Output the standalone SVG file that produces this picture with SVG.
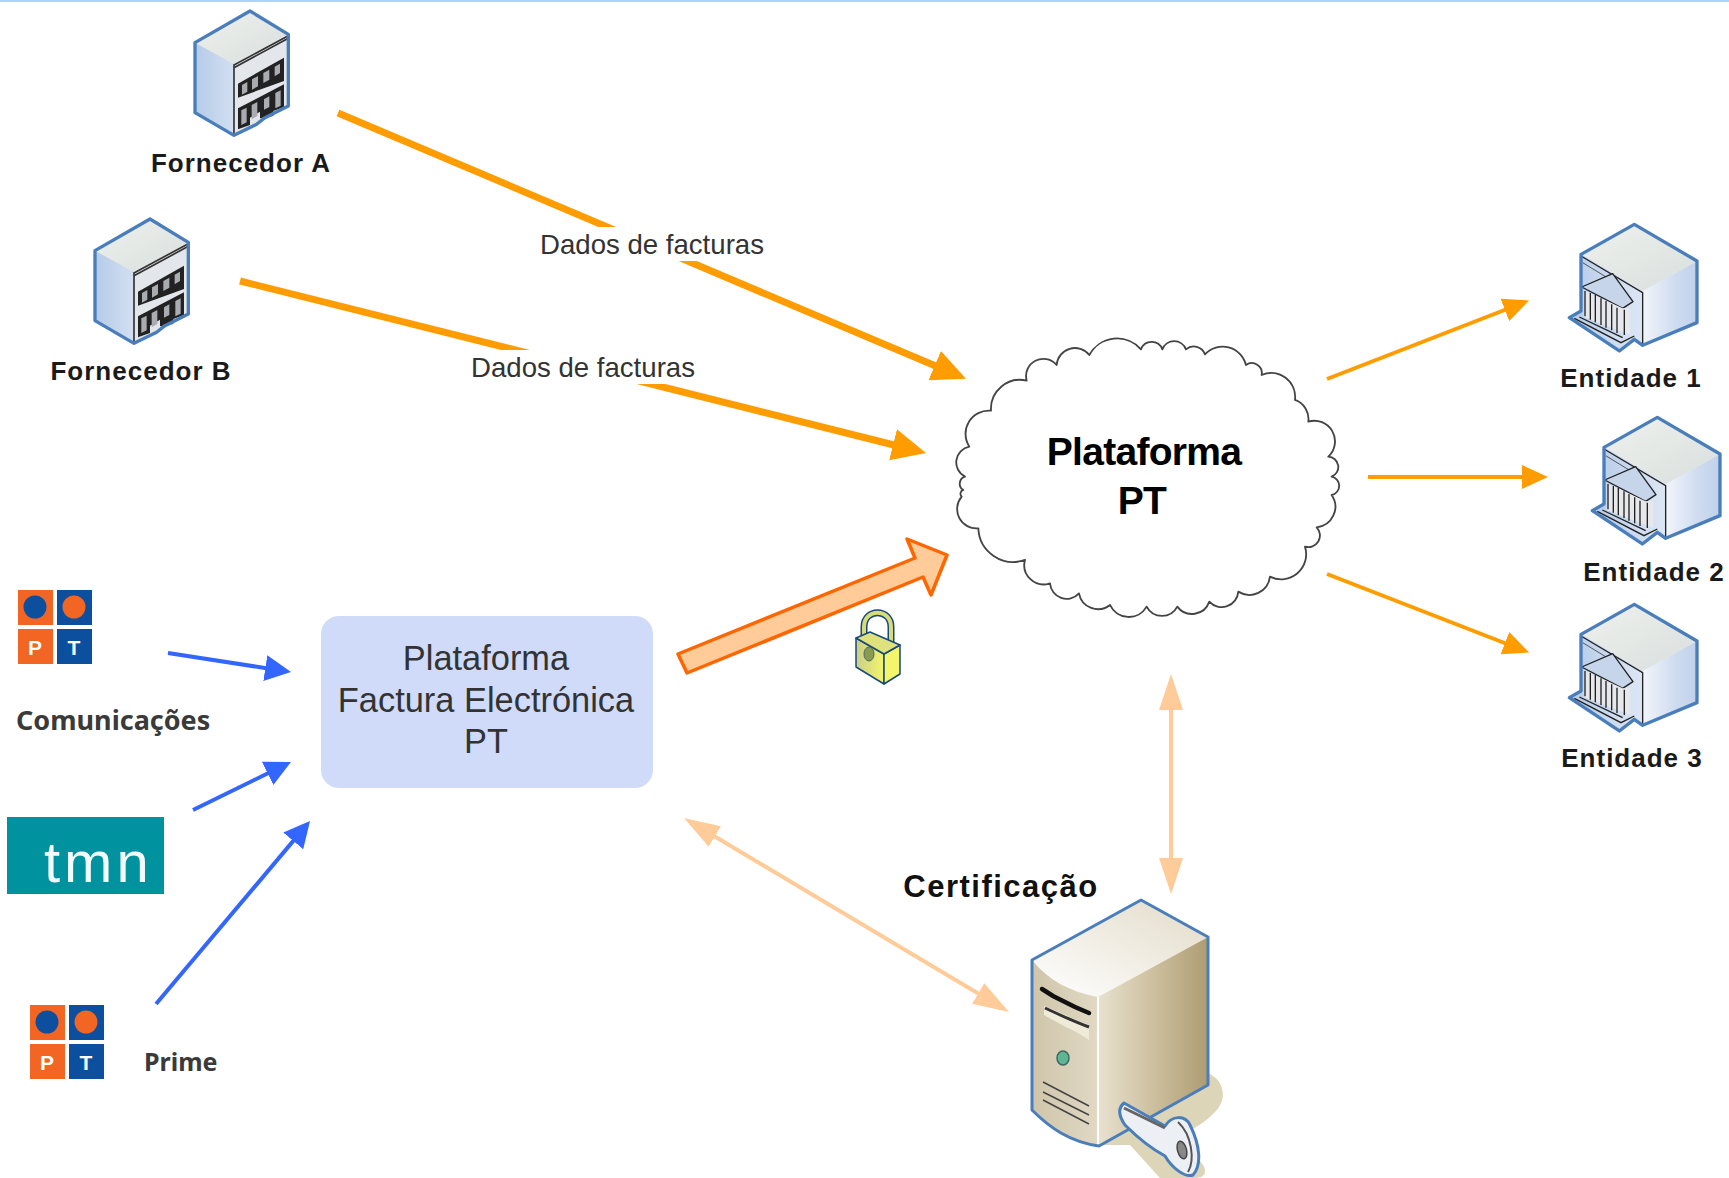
<svg xmlns="http://www.w3.org/2000/svg" xmlns:xlink="http://www.w3.org/1999/xlink" width="1729" height="1178" viewBox="0 0 1729 1178">
<style>
text{font-family:"Liberation Sans",Arial,sans-serif}
.b{font-weight:bold;fill:#1a1a1a;font-size:26px;letter-spacing:1px;text-anchor:middle}
.d{fill:#333;font-size:27.600px;text-anchor:middle}
.p{fill:#333;font-size:34.400px;text-anchor:middle}
.c{font-weight:bold;fill:#000;font-size:39px;letter-spacing:-.7px;text-anchor:middle}
.n{font-family:"Noto Sans",sans-serif;font-weight:bold;fill:#3a3a3a;font-size:27px}
.l{font-weight:bold;fill:#fff;font-size:21px;text-anchor:middle}
.org{fill:#f26522}.blu{fill:#0b4f9e}
.e{fill:none;stroke:#4a7ebb;stroke-width:10;stroke-linejoin:round}
.k{fill:#222}
.o1{stroke:#ff9c00;stroke-width:7;fill:none}
.o2{stroke:#ff9c00;stroke-width:4;fill:none}
.bl{stroke:#3366ff;stroke-width:4;fill:none}
.pe{stroke:#ffcc99;stroke-width:4;fill:none}
</style>
<defs>
<linearGradient id="gL" x1="0" x2="1" y1="0" y2="0"><stop offset="0" stop-color="#b5cbe8"/><stop offset=".5" stop-color="#d8e3f3"/><stop offset="1" stop-color="#eef2f9"/></linearGradient>
<linearGradient id="gR" x1="0" x2="1" y1="0" y2="0"><stop offset="0" stop-color="#f2f5fa"/><stop offset=".6" stop-color="#cfdcf0"/><stop offset="1" stop-color="#c0d1ea"/></linearGradient>
<linearGradient id="gT" x1="0" x2="1" y1="0" y2="1"><stop offset="0" stop-color="#eff1ee"/><stop offset="1" stop-color="#d8dfdd"/></linearGradient>
<linearGradient id="sF" x1="0" x2="1" y1="0" y2="0"><stop offset="0" stop-color="#cfc5aa"/><stop offset=".5" stop-color="#e6dfcc"/><stop offset="1" stop-color="#d6ccb2"/></linearGradient>
<linearGradient id="sR" x1="0" x2="1" y1="0" y2="0"><stop offset="0" stop-color="#e8e1cf"/><stop offset=".5" stop-color="#cdc09f"/><stop offset="1" stop-color="#ae9c72"/></linearGradient>
<linearGradient id="sT" x1="0" x2="1" y1="1" y2="0"><stop offset="0" stop-color="#fff"/><stop offset="1" stop-color="#e2dbc8"/></linearGradient>
<linearGradient id="lk" x1="0" x2="1" y1="0" y2="0"><stop offset="0" stop-color="#c9cf8a"/><stop offset="1" stop-color="#f4f56a"/></linearGradient>
<marker id="hO1" markerUnits="userSpaceOnUse" markerWidth="40" markerHeight="40" refX="1" refY="20" orient="auto"><path d="M0 4L34 20L0 36z" fill="#ff9c00"/></marker>
<marker id="hO2" markerUnits="userSpaceOnUse" markerWidth="30" markerHeight="30" refX="1" refY="15" orient="auto"><path d="M0 3L26 15L0 27z" fill="#ff9c00"/></marker>
<marker id="hB" markerUnits="userSpaceOnUse" markerWidth="30" markerHeight="30" refX="1" refY="15" orient="auto"><path d="M0 2L26 15L0 28z" fill="#3366ff"/></marker>
<marker id="hP" markerUnits="userSpaceOnUse" markerWidth="40" markerHeight="30" refX="1" refY="15" orient="auto-start-reverse"><path d="M0 3L36 15L0 27z" fill="#ffcc99"/></marker>
<g id="office">
<path d="M300 30L415 100V315L320 370L252 403L135 335V125z" fill="url(#gL)"/>
<path d="M252 190L415 100V315L345 350L320 370L252 403z" fill="#e3e6ea"/>
<path d="M300 30L415 100L252 190L135 125z" fill="url(#gT)"/>
<path d="M252 192L415 104M252 200L415 112" stroke="#333" stroke-width="5" fill="none"/>
<path d="M252 190V403" stroke="#333" stroke-width="5"/>
<path d="M264 248L402 170V240L264 290z" class="k"/>
<path d="M276 252L292 243V272L276 281zM306 235L324 225V256L306 266zM340 216L358 206V236L340 246zM374 197L390 188V216L374 226z" fill="#a9adb2"/>
<path d="M264 322L402 250V318L370 330V345L330 352V332L300 350V372L264 385z" class="k"/>
<path d="M274 328L290 320V364L274 372zM305 312L322 303V345L305 355zM342 295L358 286V318L342 326zM376 276L392 268V314L376 322z" fill="#a9adb2"/>
<path d="M300 30L415 100V315L345 350L320 370L252 403L135 335V125z" class="e"/>
</g>
<g id="bank">
<path d="M280 40L468 150V335L305 403L280 385L235 420L85 320L120 300V130z" fill="url(#gL)"/>
<path d="M305 240L468 150V335L305 403z" fill="url(#gR)"/>
<path d="M280 40L468 150L305 240L120 130z" fill="url(#gT)"/>
<path d="M120 135L305 245V403" stroke="#222" stroke-width="4" fill="none"/>
<path d="M125 155L215 210" stroke="#555" stroke-width="3"/>
<path d="M122 228L215 188L276 272L245 292z" fill="#c6d5ea" stroke="#222" stroke-width="4" stroke-linejoin="round"/>
<path d="M128 238V318L268 372V290L245 292z" fill="#e6e8ec"/>
<path d="M132 240V316M148 246V326M163 252V334M180 262V342M195 270V350M212 280V358M228 290V366M250 296V372" stroke="#222" stroke-width="4"/>
<path d="M100 322L240 395L280 375M115 318L245 380" stroke="#222" stroke-width="4" fill="none"/>
<path d="M280 40L468 150V335L305 403L280 385L235 420L85 320L120 300V130z" class="e"/>
</g>
<g id="ptlogo">
<rect x="0" y="0" width="35" height="35" class="org"/><rect x="39" y="0" width="35" height="35" class="blu"/>
<rect x="0" y="39" width="35" height="35" class="org"/><rect x="39" y="39" width="35" height="35" class="blu"/>
<circle cx="17" cy="17" r="11.500" class="blu"/><circle cx="56" cy="17" r="11.500" class="org"/>
<text x="17" y="65" class="l">P</text><text x="56" y="65" class="l">T</text>
</g>
</defs>
<rect width="1729" height="1178" fill="#fff"/>
<rect width="1729" height="2" fill="#a8d4ff"/>
<g id="connectors">
<path class="o1" d="M338 113L935.600 366" marker-end="url(#hO1)"/>
<path class="o1" d="M240 281L894 445" marker-end="url(#hO1)"/>
<path class="o2" d="M1327 379L1505.800 309.500" marker-end="url(#hO2)"/>
<path class="o2" d="M1368 477H1523" marker-end="url(#hO2)"/>
<path class="o2" d="M1327 574L1505.800 643.500" marker-end="url(#hO2)"/>
<path class="bl" d="M168 653L266.300 668.200" marker-end="url(#hB)"/>
<path class="bl" d="M193 810L268.500 773" marker-end="url(#hB)"/>
<path class="bl" d="M156 1004L293.900 840.100" marker-end="url(#hB)"/>
<path class="pe" d="M1171 709V859" marker-start="url(#hP)" marker-end="url(#hP)"/>
<path class="pe" d="M714 836L979 994" marker-start="url(#hP)" marker-end="url(#hP)"/>
<path d="M678 654L687 673L923 577L931 595L947 555L907 539L915 558z" fill="#ffcc99" stroke="#ff6600" stroke-width="3.500" stroke-linejoin="round"/>
<g>
<rect x="535" y="227" width="234" height="34" fill="#fff"/>
<text x="652" y="254" class="d">Dados de facturas</text>
<rect x="467" y="350" width="232" height="34" fill="#fff"/>
<text x="583" y="377" class="d">Dados de facturas</text>
</g>
</g>
<g id="fornecedor-a"><use xlink:href="#office" transform="translate(150 1) scale(.3333)"/><text x="241" y="172" class="b">Fornecedor A</text></g>
<g id="fornecedor-b"><use xlink:href="#office" transform="translate(50 209) scale(.3333)"/><text x="141" y="380" class="b">Fornecedor B</text></g>
<g id="entidade-1"><use xlink:href="#bank" transform="translate(1541 211) scale(.3333)"/><text x="1631" y="387" class="b">Entidade 1</text></g>
<g id="entidade-2"><use xlink:href="#bank" transform="translate(1564 404) scale(.3333)"/><text x="1654" y="581" class="b">Entidade 2</text></g>
<g id="entidade-3"><use xlink:href="#bank" transform="translate(1541 591) scale(.3333)"/><text x="1632" y="767" class="b">Entidade 3</text></g>
<g id="plataforma-pt">
<path transform="translate(930 320) scale(.3333)" fill="#fff" stroke="#444" stroke-width="5.500" stroke-linejoin="round" d="M183 272A87 87 0 0 1 290 182A52 52 0 0 1 380 135A55 55 0 0 1 478 105A95 95 0 0 1 633 88A34 34 0 0 1 697 88A38 38 0 0 1 768 88A36 36 0 0 1 825 103A72 72 0 0 1 948 135A30 30 0 0 1 995 165A72 72 0 0 1 1095 240A60 60 0 0 1 1135 305A62 62 0 0 1 1195 410A31 31 0 0 1 1205 470A28 28 0 0 1 1205 525A62 62 0 0 1 1160 622A35 35 0 0 1 1125 680A75 75 0 0 1 1020 770A62 62 0 0 1 925 815A50 50 0 0 1 838 845A55 55 0 0 1 742 860A52 52 0 0 1 650 860A62 62 0 0 1 540 855A58 58 0 0 1 447 820A50 50 0 0 1 360 790A58 58 0 0 1 285 720A105 105 0 0 1 145 625A58 58 0 0 1 95 530A12 12 0 0 1 100 510A22 22 0 0 1 105 470A48 48 0 0 1 118 380A70 70 0 0 1 183 272z"/>
<text x="1144" y="465" class="c">Plataforma</text><text x="1142" y="514" class="c">PT</text>
</g>
<g id="plataforma-factura">
<rect x="321" y="616" width="332" height="172" rx="18" fill="#cfdbf9"/>
<text x="486" y="670" class="p">Plataforma</text><text x="486" y="712" class="p">Factura Electrónica</text><text x="486" y="753" class="p">PT</text>
</g>
<g id="cadeado" transform="translate(0 2)">
<path d="M864 636V625C864 606 891 606 891 625V646" fill="none" stroke="#174a7c" stroke-width="7"/>
<path d="M864 636V625C864 606 891 606 891 625V646" fill="none" stroke="#d8dc78" stroke-width="4"/>
<path d="M856 636L884 652V682L856 665z" fill="url(#lk)" stroke="#174a7c" stroke-width="1.500" stroke-linejoin="round"/>
<path d="M884 652L900 643V672L884 682z" fill="#f4f56a" stroke="#174a7c" stroke-width="1.500" stroke-linejoin="round"/>
<path d="M856 636L870 630L900 643L884 652z" fill="#dfe27c" stroke="#174a7c" stroke-width="1.500" stroke-linejoin="round"/>
<ellipse cx="869" cy="652" rx="5" ry="7" fill="#8a9a50" stroke="#4a6a60"/>
</g>
<g id="pt-comunicacoes"><use xlink:href="#ptlogo" transform="translate(18 590)"/><text x="16" y="730" class="n">Comunicações</text></g>
<g id="tmn"><rect x="7" y="817" width="157" height="77" fill="#00929f"/><text x="44" y="882" font-family="Lato,sans-serif" font-size="58" fill="#f2fafa" letter-spacing="4">tmn</text></g>
<g id="pt-prime"><use xlink:href="#ptlogo" transform="translate(30 1005)"/><text x="144" y="1071" class="n" style="font-size:25px">Prime</text></g>
<g id="certificacao">
<text x="1001" y="897" font-weight="bold" fill="#111" font-size="31" letter-spacing="1.500" text-anchor="middle">Certificação</text>
<path d="M1205 1072C1225 1078 1228 1100 1215 1112C1200 1128 1185 1132 1170 1140C1210 1160 1212 1178 1195 1178H1160L1130 1145H1100z" fill="#ddd5b8"/>
<path d="M1141 900L1208 937V1085L1099 1146C1070 1142 1050 1128 1032 1110V960z" fill="url(#sF)"/>
<path d="M1098 997L1208 937V1085L1099 1146z" fill="url(#sR)"/>
<path d="M1141 900L1208 937L1098 997C1070 992 1048 980 1032 960z" fill="url(#sT)"/>
<path d="M1098 997V1146" stroke="#fff" stroke-width="2"/>
<path d="M1042 989L1053 996L1075 1007L1089 1013" stroke="#111" stroke-width="4.500" fill="none" stroke-linecap="round"/>
<path d="M1044 1006V1015C1060 1025 1075 1030 1089 1040V1025C1075 1020 1060 1012 1044 1006z" fill="#f0ead8"/>
<path d="M1045 1008C1060 1015 1075 1022 1089 1027" stroke="#333" stroke-width="3" fill="none"/>
<ellipse cx="1063" cy="1058" rx="6" ry="7" fill="#5fb593" stroke="#3b6a60" stroke-width="1.500"/>
<path d="M1043 1082L1089 1106M1043 1092L1089 1115M1043 1100L1089 1124" stroke="#444" stroke-width="1.500" fill="none"/>
<path d="M1141 900L1208 937V1085L1099 1146C1070 1142 1050 1128 1032 1110V960z" fill="none" stroke="#4a7ebb" stroke-width="3" stroke-linejoin="round"/>
<path d="M1124 1103L1165 1126C1172 1115 1185 1115 1190 1125C1200 1145 1202 1165 1193 1175C1185 1178 1172 1168 1165 1156C1150 1148 1135 1135 1125 1125C1118 1115 1118 1108 1124 1103z" fill="#eceff4" stroke="#4a7ebb" stroke-width="3" stroke-linejoin="round"/>
<path d="M1124 1108L1165 1128" stroke="#666" stroke-width="3"/>
<path d="M1178 1122C1192 1135 1195 1160 1188 1172" stroke="#555" stroke-width="2" fill="none"/>
<ellipse cx="1182" cy="1150" rx="4.500" ry="9" fill="#888" stroke="#444" stroke-width="1.500" transform="rotate(-15 1182 1150)"/>
</g>
</svg>
